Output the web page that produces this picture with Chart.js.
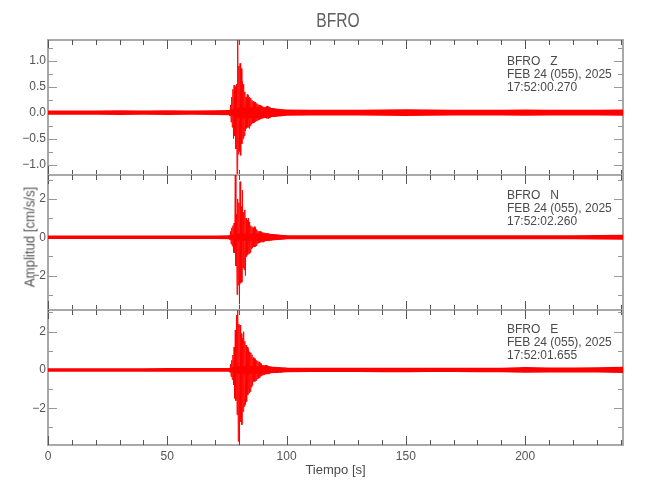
<!DOCTYPE html>
<html>
<head>
<meta charset="utf-8">
<script src="https://cdn.jsdelivr.net/npm/chart.js@4.4.1/dist/chart.umd.min.js"></script>
<style>
  body { margin: 0; background: #fff; }
  #wrap { position: relative; width: 650px; height: 500px; overflow: hidden; }
  #wrap canvas { position: absolute; left: 0; top: 0; }
  .txt { position: absolute; font-family: 'Liberation Sans', sans-serif; color: #4a4a4a; white-space: pre; }
  #title { left: 338px; top: 20px; font-size: 20px; color: #606060; transform: translate(-50%, -50%) scaleX(0.78); }
  #ylabel { left: 29px; top: 237px; font-size: 15px; color: #555; transform: translate(-50%, -50%) rotate(-90deg) scaleX(0.88); }
  .info { left: 507px; font-size: 12px; line-height: 13px; }
</style>
</head>
<body>
<div id="wrap">
  <canvas id="c1" width="650" height="500"></canvas>
  <canvas id="c2" width="650" height="500"></canvas>
  <canvas id="c3" width="650" height="500"></canvas>
  <div class="txt" id="title">BFRO</div>
  <div class="txt" id="ylabel">Amplitud [cm/s/s]</div>
  <div class="txt info" id="info1"></div>
  <div class="txt info" id="info2"></div>
  <div class="txt info" id="info3"></div>
</div>
<script>
// eje de tiempo
const timeMax = 241;
const xTickLabels = [0, 50, 100, 150, 200];

const noiseTimes = [0, 10, 20, 30, 40, 50, 60, 70, 76, 80, 90, 100, 110, 120, 130, 140, 150, 160, 170, 180, 190, 200, 210, 220, 230, 241];
const zNoise = [0.04, 0.04, 0.04, 0.045, 0.04, 0.045, 0.04, 0.045, 0.05, 0.1, 0.1, 0.06, 0.055, 0.055, 0.055, 0.06, 0.065, 0.06, 0.055, 0.055, 0.055, 0.06, 0.055, 0.055, 0.055, 0.06];
const nNoise = [0.09, 0.09, 0.09, 0.09, 0.09, 0.09, 0.09, 0.09, 0.1, 0.2, 0.2, 0.1, 0.1, 0.1, 0.1, 0.1, 0.11, 0.1, 0.1, 0.11, 0.11, 0.11, 0.11, 0.11, 0.12, 0.13];
const eNoise = [0.09, 0.09, 0.09, 0.09, 0.09, 0.1, 0.1, 0.1, 0.1, 0.2, 0.2, 0.12, 0.11, 0.11, 0.11, 0.12, 0.12, 0.11, 0.11, 0.12, 0.12, 0.15, 0.13, 0.13, 0.14, 0.16];

// sismo: muestras cada 0.25 s desde 76 s
const evtStart = 76;
const evtStep = 0.25;
const zWave = [
  0.05, -0.06, 0.15, -0.18, 0.3, -0.28, 0.45, -0.5,
  0.53, -0.45, 0.5, -0.7, 0.55, -1.25, 1.6, -0.8,
  0.9, -0.75, 0.95, -0.82, 0.85, -0.6, 0.6, -0.5,
  0.55, -0.45, 0.4, -0.35, 0.3, -0.3, 0.35, -0.28,
  0.33, -0.3, 0.3, -0.25, 0.28, -0.22, 0.24, -0.2,
  0.22, -0.2, 0.2, -0.18, 0.2, -0.16, 0.18, -0.15,
  0.16, -0.14, 0.15, -0.13, 0.14, -0.12, 0.12, -0.11,
  0.12, -0.1, 0.11, -0.1, 0.1, -0.1, 0.12, -0.11,
  0.13, -0.11, 0.12, -0.1, 0.11, -0.09, 0.09, -0.08,
  0.09, -0.08, 0.08, -0.07, 0.08, -0.07, 0.07, -0.07,
  0.07, -0.06, 0.07, -0.06, 0.06, -0.06, 0.06, -0.05,
  0.06, -0.05, 0.05, -0.05, 0.05, -0.05, 0.05, -0.04
];
const nWave = [
  0.1, -0.12, 0.3, -0.35, 0.48, -0.46, 0.6, -0.8,
  0.74, -0.8, 3.4, -1.5, 1.2, -3.0, 2.0, -2.5,
  1.8, -3.5, 2.9, -2.4, 1.6, -2.35, 2.46, -1.6,
  1.3, -1.7, 1.43, -2.0, 1.0, -1.0, 0.9, -0.9,
  1.0, -0.85, 0.8, -0.8, 0.6, -0.6, 0.55, -0.55,
  0.5, -0.5, 0.55, -0.5, 0.5, -0.45, 0.4, -0.35,
  0.32, -0.3, 0.3, -0.28, 0.3, -0.26, 0.28, -0.25,
  0.25, -0.25, 0.24, -0.22, 0.22, -0.2, 0.2, -0.2,
  0.2, -0.18, 0.2, -0.18, 0.18, -0.16, 0.17, -0.16,
  0.16, -0.15, 0.15, -0.14, 0.15, -0.14, 0.14, -0.13,
  0.13, -0.12, 0.12, -0.12, 0.12, -0.11, 0.11, -0.11,
  0.11, -0.1, 0.1, -0.1, 0.1, -0.1, 0.1, -0.09
];
const eWave = [
  0.1, -0.12, 0.3, -0.35, 0.5, -0.5, 0.78, -0.78,
  1.2, -1.48, 2.08, -1.6, 2.86, -2.34, 3.3, -3.73,
  2.4, -4.0, 2.34, -2.7, 1.9, -2.86, 1.65, -2.17,
  2.0, -1.9, 1.5, -1.8, 1.3, -1.65, 1.2, -1.3,
  1.1, -1.2, 0.95, -1.13, 0.9, -0.9, 0.8, -0.8,
  0.65, -0.6, 0.6, -0.6, 0.55, -0.55, 0.5, -0.45,
  0.45, -0.45, 0.42, -0.4, 0.35, -0.32, 0.3, -0.28,
  0.25, -0.25, 0.25, -0.25, 0.24, -0.22, 0.25, -0.22,
  0.22, -0.2, 0.2, -0.2, 0.18, -0.16, 0.16, -0.15,
  0.15, -0.15, 0.15, -0.14, 0.15, -0.14, 0.14, -0.13,
  0.13, -0.13, 0.13, -0.12, 0.12, -0.12, 0.12, -0.12,
  0.12, -0.11, 0.11, -0.11, 0.11, -0.11, 0.11, -0.1
];

// ejes Y
const zRange = [-1.2, 1.4];
const nRange = [-3.8, 3.25];
const eRange = [-3.92, 3.13];
const zTicks = [-1, -0.5, 0, 0.5, 1];
const nTicks = [-2, 0, 2];
const eTicks = [-2, 0, 2];

const infoLines = [
  ['BFRO   Z', 'FEB 24 (055), 2025', '17:52:00.270'],
  ['BFRO   N', 'FEB 24 (055), 2025', '17:52:02.260'],
  ['BFRO   E', 'FEB 24 (055), 2025', '17:52:01.655']
];

Chart.defaults.font.family = "'Liberation Sans', sans-serif";
Chart.defaults.color = '#555';

// marco con marcas hacia adentro en los cuatro lados
const framePlugin = {
  id: 'frame',
  beforeDatasetsDraw(chart, args, opts) {
    const { ctx, chartArea: a, scales: { x, y } } = chart;
    ctx.save();
    ctx.strokeStyle = '#a9a9a9';
    ctx.lineWidth = 2;
    ctx.strokeRect(a.left, a.top, a.right - a.left, a.bottom - a.top);
    ctx.lineWidth = 1;
    ctx.beginPath();
    ctx.strokeStyle = '#555';
    for (let k = 0; k * 10 <= x.max; k++) {
      const px = Math.round(x.getPixelForValue(k * 10)) + 0.5;
      const len = k % 5 === 0 ? 9 : 5;
      ctx.moveTo(px, a.top); ctx.lineTo(px, a.top + len);
      ctx.moveTo(px, a.bottom); ctx.lineTo(px, a.bottom - len);
    }
    ctx.stroke();
    ctx.beginPath();
    ctx.strokeStyle = '#999';
    const m = opts.minor;
    for (let k = Math.ceil(y.min / m); k * m <= y.max; k++) {
      const v = k * m;
      const py = Math.round(y.getPixelForValue(v)) + 0.5;
      const r = v / opts.major;
      const len = Math.abs(r - Math.round(r)) < 1e-6 ? 9 : 5;
      ctx.moveTo(a.left, py); ctx.lineTo(a.left + len, py);
      ctx.moveTo(a.right, py); ctx.lineTo(a.right - len, py);
    }
    ctx.stroke();
    ctx.restore();
  }
};

function makePanel(id, top, bottom, noise, wave, range, ticks, minor, major, decimals, showX) {
  const upper = noiseTimes.map((t, i) => ({ x: t, y: noise[i] }));
  const lower = noiseTimes.map((t, i) => ({ x: t, y: -noise[i] }));
  const trace = wave.map((v, i) => ({ x: evtStart + i * evtStep, y: v }));
  return new Chart(document.getElementById(id), {
    type: 'line',
    data: {
      datasets: [
        { data: upper, borderWidth: 0, pointRadius: 0, fill: false },
        { data: lower, borderWidth: 0, pointRadius: 0, fill: '-1', backgroundColor: '#ff0000' },
        { data: trace, borderColor: '#ff0000', borderWidth: 1, pointRadius: 0, fill: false }
      ]
    },
    options: {
      responsive: false,
      animation: false,
      layout: { padding: { top: top, bottom: 0, left: 0, right: 27 } },
      plugins: {
        legend: { display: false },
        tooltip: { enabled: false },
        frame: { minor: minor, major: major }
      },
      scales: {
        x: {
          type: 'linear',
          min: 0,
          max: timeMax,
          afterBuildTicks: s => { s.ticks = xTickLabels.map(v => ({ value: v })); },
          afterFit: s => { s.height = 500 - bottom; },
          grid: { display: false, drawTicks: false },
          border: { display: false },
          ticks: { display: showX, font: { size: 12 }, padding: 4, maxRotation: 0 },
          title: { display: showX, text: 'Tiempo [s]', font: { size: 13 }, color: '#4a4a4a', padding: { top: 3, bottom: 22 } }
        },
        y: {
          min: range[0],
          max: range[1],
          afterBuildTicks: s => { s.ticks = ticks.map(v => ({ value: v })); },
          afterFit: s => { s.width = 48; },
          grid: { display: false, drawTicks: false },
          border: { display: false },
          ticks: {
            font: { size: 12 },
            padding: 2,
            callback: v => (v < 0 ? '\u2212' : '') + Math.abs(v).toFixed(decimals)
          }
        }
      }
    },
    plugins: [framePlugin]
  });
}

makePanel('c1', 40, 175, zNoise, zWave, zRange, zTicks, 0.25, 0.5, 1, false);
makePanel('c2', 175, 310, nNoise, nWave, nRange, nTicks, 1, 2, 0, false);
makePanel('c3', 310, 445, eNoise, eWave, eRange, eTicks, 1, 2, 0, true);

[['info1', 55], ['info2', 189], ['info3', 323]].forEach(([id, top], i) => {
  const el = document.getElementById(id);
  el.style.top = top + 'px';
  el.textContent = infoLines[i].join('\n');
});
</script>
</body>
</html>
